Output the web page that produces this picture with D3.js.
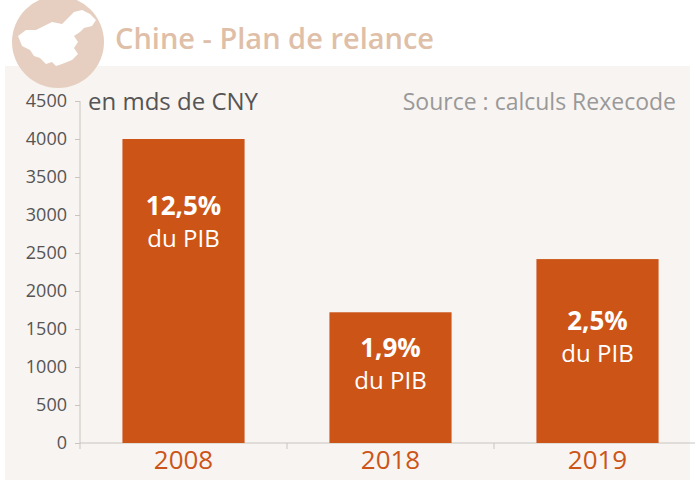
<!DOCTYPE html><html><head><meta charset="utf-8"><script src="https://cdn.jsdelivr.net/npm/d3@7"></script>
<style>body{margin:0;background:#fff}text{font-family:"Open Sans",sans-serif}</style></head><body><svg id="c" width="695" height="483"></svg>
<script>
const categories=["2008","2018","2019"];
const values=[4000,1720,2420];
const pctLabels=["12,5%","1,9%","2,5%"];
const subLabels=["du PIB","du PIB","du PIB"];
const yTicks=[0,500,1000,1500,2000,2500,3000,3500,4000,4500];
const svg=d3.select("#c");
svg.append("rect").attr("x",5).attr("y",66).attr("width",685).attr("height",414).attr("fill","#f8f4f1");
svg.append("circle").attr("cx",58).attr("cy",42).attr("r",46).attr("fill","#e6cfc1");
svg.append("path").attr("fill","#fff").attr("d","M18,36 L26,30 L36,30 L44,26 L52,22 L62,24 L68,18 L74,12 L82,10 L90,14 L96,20 L92,26 L84,28 L80,32 L74,36 L78,42 L74,48 L78,54 L72,60 L62,64 L56,66 L52,62 L46,64 L40,58 L34,56 L30,50 L22,46 Z");
svg.append("text").attr("x",115).attr("y",49).attr("font-size",29).attr("font-weight",600).attr("fill","#e0bfa9").text("Chine - Plan de relance");
const x=d3.scaleBand().domain(categories).range([80,701]).paddingInner(0.41).paddingOuter(0.205);
const y=d3.scaleLinear().domain([0,4500]).range([443,101]);
const ya=svg.append("g").attr("transform","translate(80,0)").call(d3.axisLeft(y).tickValues(yTicks).tickFormat(d3.format("d")).tickSize(5).tickPadding(8));
ya.selectAll("text").attr("font-size",18).attr("fill","#555");
ya.selectAll("line,path").attr("stroke","#c8c4c0");
ya.select("path").attr("d","M0,101V443");
const xa=svg.append("g").attr("transform","translate(0,443)").call(d3.axisBottom(x).tickSize(0).tickPadding(8));
xa.select("path").attr("d","M80,0H701").attr("stroke","#c8c4c0");
xa.selectAll("text").attr("font-size",26).attr("fill","#cc5417");
const bw=x.step();
[0,1,2,3].forEach(i=>svg.append("line").attr("x1",80+i*bw).attr("x2",80+i*bw).attr("y1",443).attr("y2",449).attr("stroke","#c8c4c0"));
svg.selectAll("rect.bar").data(values).enter().append("rect").attr("class","bar")
 .attr("x",(d,i)=>x(categories[i])).attr("width",x.bandwidth()).attr("y",d=>y(d)).attr("height",d=>443-y(d)).attr("fill","#cc5417");
const lblY=[215,357,330];
values.forEach((d,i)=>{
 const cx=x(categories[i])+x.bandwidth()/2;
 svg.append("text").attr("x",cx).attr("y",lblY[i]).attr("text-anchor","middle").attr("font-size",26).attr("font-weight",700).attr("fill","#fff").text(pctLabels[i]);
 svg.append("text").attr("x",cx).attr("y",lblY[i]+32).attr("text-anchor","middle").attr("font-size",24).attr("fill","#fff").text(subLabels[i]);
});
svg.append("text").attr("x",88).attr("y",110).attr("font-size",24).attr("fill","#555").text("en mds de CNY");
svg.append("text").attr("x",676).attr("y",110).attr("text-anchor","end").attr("font-size",23).attr("fill","#999").text("Source : calculs Rexecode");
</script></body></html>
